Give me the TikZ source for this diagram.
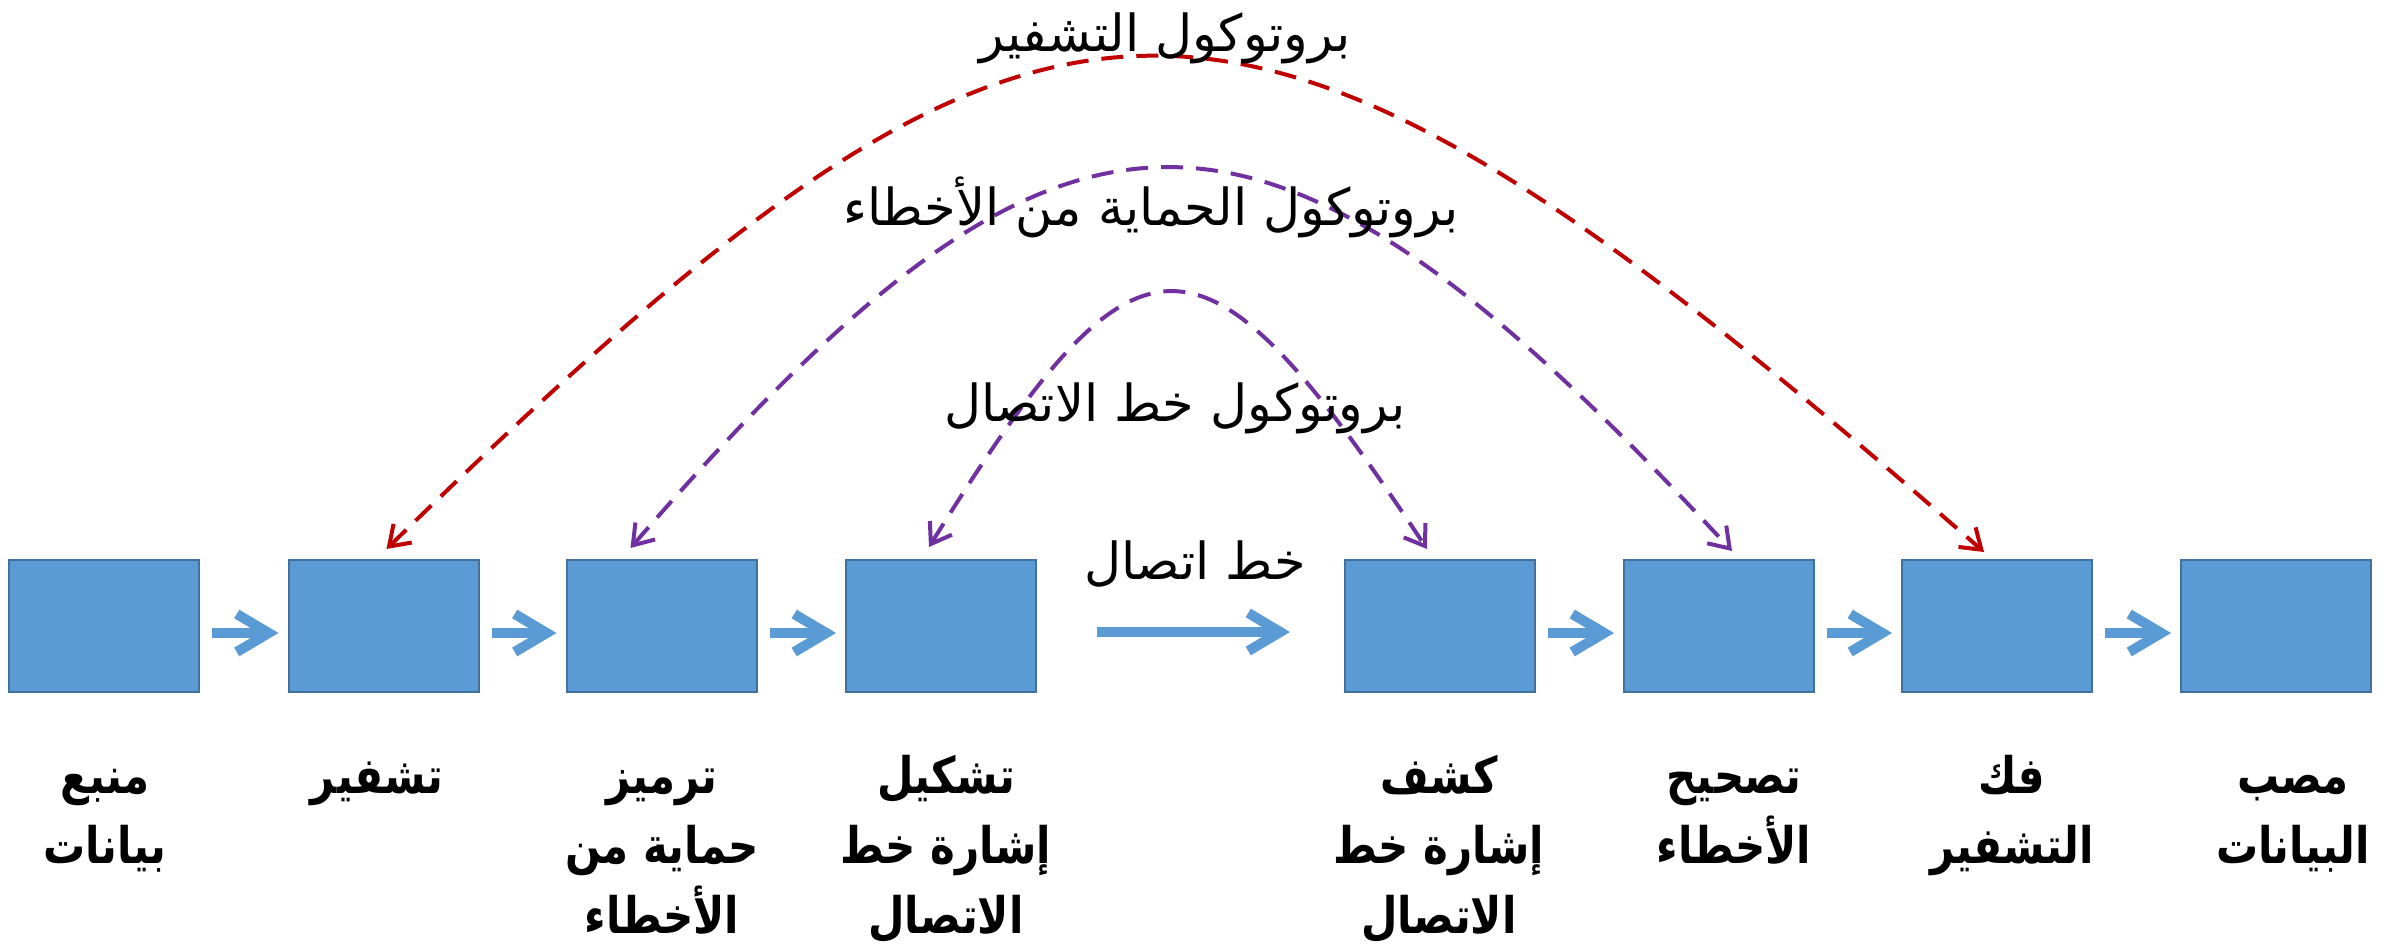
\documentclass[tikz,border=0pt]{standalone}
\usepackage{fontspec}
\usepackage{graphicx}
\usetikzlibrary{arrows.meta,calc}
\TeXXeTstate=1
\newfontfamily\arabicfont[Script=Arabic]{DejaVu Sans}
\newcommand{\rl}[1]{\beginR#1\endR}
\newcommand{\rlt}[1]{\scalebox{1}[1.2]{\vrule height 40pt depth 16pt width 0pt\beginR#1\endR}}
\definecolor{boxblue}{HTML}{5B9BD5}
\definecolor{boxedge}{HTML}{41719C}
\definecolor{protored}{HTML}{C00000}
\definecolor{protopurple}{HTML}{7030A0}
\tikzset{
  stage/.style={draw=boxedge, line width=2pt, fill=boxblue, minimum width=190pt, minimum height=132pt, inner sep=0pt},
  flow/.style={draw=boxblue, line width=10pt, -{Straight Barb[length=32pt,width=38pt,line width=10pt]}},
  proto/.style={line width=4pt, dash pattern=on 22pt off 13pt, {Straight Barb[length=19pt,width=26pt,line width=4pt]}-{Straight Barb[length=19pt,width=26pt,line width=4pt]}},
  steplabel/.style={font=\arabicfont\bfseries\fontsize{42}{70}\selectfont, align=center, anchor=north, inner sep=0pt},
  protolabel/.style={font=\arabicfont\fontsize{51}{60}\selectfont, inner sep=0pt},
}
\begin{document}
\begin{tikzpicture}[x=1pt,y=-1pt]
\fill[white] (0,0) rectangle (2394,952);
\useasboundingbox (0,0) rectangle (2394,952);
% stages
\node[stage] (b1) at (104,626) {};
\node[stage] (b2) at (383.5,626) {};
\node[stage] (b3) at (661.5,626) {};
\node[stage] (b4) at (941,626) {};
\node[stage] (b5) at (1440,626) {};
\node[stage] (b6) at (1719,626) {};
\node[stage] (b7) at (1997,626) {};
\node[stage] (b8) at (2276,626) {};
% flow arrows
\draw[flow] ($(b1.east)+(12,7)$) -- ($(b2.west)+(-9,7)$);
\draw[flow] ($(b2.east)+(12,7)$) -- ($(b3.west)+(-9,7)$);
\draw[flow] ($(b3.east)+(12,7)$) -- ($(b4.west)+(-9,7)$);
\draw[flow] ($(b4.east)+(60,6)$) -- ($(b5.west)+(-54,6)$);
\draw[flow] ($(b5.east)+(12,7)$) -- ($(b6.west)+(-9,7)$);
\draw[flow] ($(b6.east)+(12,7)$) -- ($(b7.west)+(-9,7)$);
\draw[flow] ($(b7.east)+(12,7)$) -- ($(b8.west)+(-9,7)$);
% protocol arcs
\coordinate (r1) at ($(b2.north)+(3,-10)$);
\coordinate (r2) at ($(b7.north)+(-13,-7)$);
\coordinate (p1) at ($(b3.north)+(-31,-11)$);
\coordinate (p2) at ($(b6.north)+(13,-8)$);
\coordinate (q1) at ($(b4.north)+(-12,-12)$);
\coordinate (q2) at ($(b5.north)+(-13,-10)$);
\draw[proto, draw=protored] (r1) .. controls (1060,-108) and (1230,-108) .. (r2);
\draw[proto, draw=protopurple] (p1) .. controls (1070,41) and (1260,41) .. (p2);
\draw[proto, draw=protopurple] (q1) .. controls (1140,207) and (1200,207) .. (q2);
% protocol labels
\node[protolabel] (l1) at (1165,38) {\rl{بروتوكول التشفير}};
\node[protolabel] (l2) at (1151,207) {\rl{بروتوكول الحماية من الأخطاء}};
\node[protolabel] (l3) at (1175,408) {\rl{بروتوكول خط الاتصال}};
\node[protolabel] (l4) at (1195,564) {\rl{خط اتصال}};
% stage labels
\node[steplabel] (t1) at (105,745) {\rlt{منبع}\\\rlt{بيانات}};
\node[steplabel] (t2) at (377,745) {\rlt{تشفير}};
\node[steplabel] (t3) at (662,745) {\rlt{ترميز}\\\rlt{حماية من}\\\rlt{الأخطاء}};
\node[steplabel] (t4) at (946,745) {\rlt{تشكيل}\\\rlt{إشارة خط}\\\rlt{الاتصال}};
\node[steplabel] (t5) at (1439,745) {\rlt{كشف}\\\rlt{إشارة خط}\\\rlt{الاتصال}};
\node[steplabel] (t6) at (1734,745) {\rlt{تصحيح}\\\rlt{الأخطاء}};
\node[steplabel] (t7) at (2012,745) {\rlt{فك}\\\rlt{التشفير}};
\node[steplabel] (t8) at (2293,745) {\rlt{مصب}\\\rlt{البيانات}};
\end{tikzpicture}
\end{document}
